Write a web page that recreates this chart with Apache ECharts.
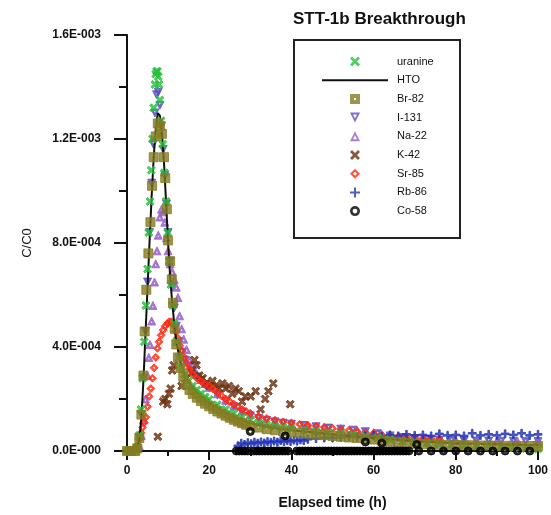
<!DOCTYPE html>
<html>
<head>
<meta charset="utf-8">
<title>STT-1b Breakthrough</title>
<script src="https://cdn.jsdelivr.net/npm/echarts@6/dist/echarts.min.js"></script>
<style>
  html, body { margin: 0; padding: 0; background: #fff; }
  #chart { width: 551px; height: 515px; }
</style>
</head>
<body>
<div id="chart"></div>
<script>
// Tracer breakthrough curves, C/C0 against elapsed time (h)
const seriesNames = ['uranine', 'HTO', 'Br-82', 'I-131', 'Na-22', 'K-42', 'Sr-85', 'Rb-86', 'Co-58'];
const xTicks = [0, 20, 40, 60, 80, 100];
const yTicks = [0, 4e-4, 8e-4, 1.2e-3, 1.6e-3];

const uranine = [
  [0, 0], [1, 0], [2, 0], [2.5, 0.15e-4], [3, 0.6e-4], [3.4, 1.6e-4], [3.8, 2.8e-4], [4.2, 4.2e-4],
  [4.6, 5.6e-4], [5, 7.0e-4], [5.3, 8.4e-4], [5.6, 9.6e-4], [5.9, 10.8e-4], [6.2, 12.0e-4],
  [6.5, 13.2e-4], [6.8, 14.1e-4], [7.0, 14.5e-4], [7.2, 14.6e-4], [7.4, 14.6e-4], [7.6, 14.4e-4],
  [7.8, 14.1e-4], [8, 13.5e-4], [8.3, 12.7e-4], [8.7, 11.8e-4], [9.1, 10.7e-4], [9.5, 9.6e-4],
  [9.9, 8.4e-4], [10.3, 7.3e-4], [10.7, 6.4e-4], [11.1, 5.6e-4], [11.5, 4.9e-4], [12, 4.2e-4],
  [12.6, 3.6e-4], [13.3, 3.2e-4], [14, 2.95e-4], [15, 2.7e-4], [16, 2.5e-4], [17, 2.35e-4],
  [18, 2.2e-4], [19, 2.08e-4], [20, 1.98e-4], [22, 1.78e-4], [24, 1.6e-4], [26, 1.45e-4],
  [28, 1.3e-4], [30, 1.18e-4], [32, 1.08e-4], [34, 1.0e-4], [36, 0.95e-4], [38, 0.9e-4],
  [40, 0.86e-4], [43, 0.8e-4], [46, 0.75e-4], [49, 0.7e-4], [52, 0.66e-4], [55, 0.62e-4],
  [58, 0.57e-4], [61, 0.5e-4], [64, 0.44e-4], [67, 0.38e-4], [70, 0.33e-4], [73, 0.3e-4],
  [76, 0.27e-4], [79, 0.25e-4], [82, 0.22e-4], [85, 0.2e-4], [88, 0.18e-4], [91, 0.15e-4],
  [94, 0.12e-4], [97, 0.1e-4], [100, 0.08e-4]
];

const hto = [
  [0, 0], [2, 0], [2.5, 0.1e-4], [3, 0.4e-4], [3.5, 1.3e-4], [4, 2.7e-4], [4.5, 4.5e-4],
  [5, 6.3e-4], [5.5, 8.1e-4], [6, 9.8e-4], [6.5, 11.3e-4], [7, 12.4e-4], [7.5, 13.0e-4],
  [8, 12.9e-4], [8.5, 12.2e-4], [9, 11.1e-4], [9.5, 9.6e-4], [10, 8.0e-4], [10.5, 6.7e-4],
  [11, 5.7e-4], [11.5, 4.9e-4], [12, 4.2e-4], [13, 3.4e-4], [14, 2.95e-4], [15, 2.65e-4],
  [16, 2.45e-4], [18, 2.1e-4], [20, 1.85e-4], [25, 1.38e-4], [30, 1.08e-4], [35, 0.9e-4],
  [40, 0.8e-4], [50, 0.64e-4], [60, 0.5e-4], [70, 0.38e-4], [80, 0.3e-4], [90, 0.26e-4],
  [100, 0.22e-4]
];

const br82 = [
  [0, 0], [1, 0], [2, 0], [2.5, 0.1e-4], [3, 0.5e-4], [3.5, 1.4e-4], [4, 2.9e-4], [4.3, 4.6e-4],
  [4.7, 6.2e-4], [5.2, 7.6e-4], [5.7, 8.8e-4], [6.1, 10.2e-4], [6.5, 11.3e-4], [7, 12.1e-4],
  [7.5, 12.6e-4], [8, 12.5e-4], [8.5, 12.2e-4], [9, 11.3e-4], [9.3, 10.5e-4], [9.7, 9.3e-4],
  [10, 8.1e-4], [10.5, 7.3e-4], [10.9, 6.6e-4], [11.2, 5.7e-4], [11.6, 4.7e-4], [12, 4.1e-4],
  [12.4, 3.6e-4], [13, 3.2e-4], [13.7, 2.85e-4], [14.4, 2.55e-4], [15.2, 2.35e-4], [16, 2.2e-4],
  [17, 2.05e-4], [18, 1.92e-4], [19, 1.82e-4], [20, 1.72e-4], [21, 1.62e-4], [22, 1.52e-4],
  [23, 1.44e-4], [24, 1.36e-4], [25, 1.28e-4], [26, 1.2e-4], [27, 1.13e-4], [28, 1.07e-4],
  [29, 1.01e-4], [30, 0.97e-4], [32, 0.9e-4], [34, 0.84e-4], [36, 0.8e-4], [38, 0.76e-4],
  [40, 0.73e-4], [42, 0.7e-4], [44, 0.67e-4], [46, 0.64e-4], [48, 0.61e-4], [50, 0.58e-4],
  [52, 0.55e-4], [54, 0.52e-4], [56, 0.5e-4], [58, 0.47e-4], [60, 0.44e-4], [62, 0.4e-4],
  [64, 0.36e-4], [66, 0.33e-4], [68, 0.3e-4], [70, 0.28e-4], [72, 0.26e-4], [74, 0.26e-4],
  [76, 0.24e-4], [78, 0.23e-4], [80, 0.23e-4], [82, 0.22e-4], [84, 0.22e-4], [86, 0.21e-4],
  [88, 0.21e-4], [90, 0.2e-4], [92, 0.2e-4], [94, 0.2e-4], [96, 0.19e-4], [98, 0.19e-4],
  [100, 0.19e-4]
];

const i131 = [
  [2, 0], [2.5, 0.1e-4], [3, 0.5e-4], [3.5, 1.4e-4], [4, 2.8e-4], [4.5, 4.6e-4], [5, 6.5e-4],
  [5.5, 8.4e-4], [6, 10.3e-4], [6.4, 11.8e-4], [6.8, 13.0e-4], [7.2, 13.7e-4], [7.6, 13.8e-4],
  [8, 13.3e-4], [8.4, 12.5e-4], [8.8, 11.6e-4], [9.2, 10.6e-4], [9.6, 9.5e-4], [10, 8.4e-4],
  [10.5, 7.3e-4], [11, 6.3e-4], [11.5, 5.5e-4], [12, 4.8e-4], [12.6, 4.2e-4], [13.3, 3.8e-4],
  [14, 3.5e-4], [15, 3.25e-4], [16, 3.05e-4], [17, 2.85e-4], [18, 2.7e-4], [19, 2.55e-4],
  [20, 2.42e-4], [22, 2.15e-4], [24, 1.9e-4], [26, 1.7e-4], [28, 1.5e-4], [30, 1.35e-4],
  [32, 1.25e-4], [34, 1.18e-4], [36, 1.12e-4], [38, 1.07e-4], [40, 1.03e-4], [43, 0.98e-4],
  [46, 0.93e-4], [49, 0.88e-4], [52, 0.84e-4], [55, 0.8e-4], [58, 0.74e-4], [61, 0.66e-4],
  [64, 0.58e-4], [67, 0.52e-4], [70, 0.48e-4], [73, 0.45e-4], [76, 0.42e-4], [79, 0.4e-4],
  [82, 0.39e-4], [85, 0.38e-4], [88, 0.38e-4], [91, 0.37e-4], [94, 0.37e-4], [97, 0.36e-4],
  [100, 0.36e-4]
];

const na22 = [
  [3, 0.2e-4], [3.5, 0.6e-4], [4, 1.2e-4], [4.5, 2.0e-4], [5, 2.9e-4], [5.3, 3.6e-4],
  [5.6, 4.1e-4], [6, 5.0e-4], [6.3, 5.6e-4], [6.7, 6.5e-4], [7, 7.2e-4], [7.3, 7.7e-4],
  [7.6, 8.3e-4], [8, 9.0e-4], [8.4, 9.3e-4], [8.8, 9.2e-4], [9.2, 8.8e-4], [9.6, 8.2e-4],
  [10, 7.7e-4], [10.5, 7.2e-4], [11, 6.9e-4], [11.5, 6.6e-4], [12, 6.3e-4], [12.4, 5.9e-4],
  [12.8, 5.2e-4], [13.3, 4.7e-4], [13.8, 4.3e-4], [14.5, 3.9e-4], [15.2, 3.5e-4], [16, 3.2e-4],
  [17, 2.95e-4], [18, 2.75e-4], [19, 2.6e-4], [20, 2.45e-4], [22, 2.2e-4], [24, 1.95e-4],
  [26, 1.75e-4], [28, 1.55e-4], [30, 1.4e-4], [33, 1.25e-4], [36, 1.15e-4], [40, 1.05e-4],
  [44, 0.98e-4], [48, 0.92e-4], [52, 0.86e-4], [56, 0.8e-4], [60, 0.7e-4], [64, 0.6e-4],
  [68, 0.52e-4], [72, 0.47e-4], [76, 0.43e-4], [80, 0.41e-4], [85, 0.4e-4], [90, 0.39e-4],
  [95, 0.38e-4], [100, 0.37e-4]
];

const k42 = [
  [7.5, 0.55e-4], [8.8, 1.9e-4], [9.3, 2.0e-4], [9.8, 1.8e-4], [10.2, 2.2e-4], [10.6, 2.4e-4],
  [11.0, 3.1e-4], [11.4, 3.3e-4], [13.3, 2.5e-4], [14.4, 2.8e-4], [15.7, 3.0e-4], [16.4, 3.5e-4],
  [16.9, 3.3e-4], [17.6, 2.9e-4], [18.4, 2.8e-4], [19.2, 2.6e-4], [20.0, 2.5e-4], [20.8, 2.7e-4],
  [21.6, 2.5e-4], [22.4, 2.4e-4], [23.2, 2.6e-4], [24.0, 2.4e-4], [24.8, 2.5e-4], [25.6, 2.2e-4],
  [26.4, 2.4e-4], [27.2, 2.3e-4], [28.0, 1.9e-4], [28.8, 2.1e-4], [30.1, 2.1e-4], [31.3, 2.3e-4],
  [32.5, 1.6e-4], [33.6, 2.0e-4], [34.4, 2.3e-4], [35.6, 2.6e-4], [39.7, 1.8e-4]
];

const sr85 = [
  [2, 0], [2.5, 0.2e-4], [3, 0.45e-4], [3.4, 0.7e-4], [3.8, 0.9e-4], [4.2, 1.1e-4], [4.6, 1.3e-4],
  [5, 1.7e-4], [5.4, 2.1e-4], [5.8, 2.4e-4], [6.2, 2.8e-4], [6.6, 3.2e-4], [7, 3.6e-4],
  [7.4, 3.95e-4], [7.8, 4.2e-4], [8.3, 4.45e-4], [8.8, 4.65e-4], [9.3, 4.8e-4], [9.8, 4.9e-4],
  [10.3, 4.97e-4], [10.8, 4.97e-4], [11.3, 4.85e-4], [11.8, 4.6e-4], [12.3, 4.35e-4],
  [12.8, 4.05e-4], [13.3, 3.85e-4], [13.9, 3.6e-4], [14.5, 3.38e-4], [15.2, 3.15e-4],
  [16, 2.95e-4], [17, 2.8e-4], [18, 2.68e-4], [19, 2.58e-4], [20, 2.5e-4], [21, 2.38e-4],
  [22, 2.25e-4], [23, 2.12e-4], [24, 2.0e-4], [25, 1.9e-4], [26, 1.8e-4], [27, 1.7e-4],
  [28, 1.6e-4], [29, 1.52e-4], [30, 1.45e-4], [32, 1.33e-4], [34, 1.25e-4], [36, 1.18e-4],
  [38, 1.12e-4], [40, 1.08e-4], [42, 1.03e-4], [44, 0.99e-4], [46, 0.95e-4], [48, 0.91e-4],
  [50, 0.87e-4], [52, 0.83e-4], [54, 0.79e-4], [56, 0.75e-4], [58, 0.71e-4], [60, 0.67e-4],
  [62, 0.62e-4], [64, 0.58e-4], [66, 0.55e-4], [68, 0.52e-4], [70, 0.5e-4], [72, 0.48e-4],
  [74, 0.47e-4], [76, 0.45e-4]
];

const rb86 = [
  [27, 0.2e-4], [27.8, 0.3e-4], [28.6, 0.25e-4], [29.4, 0.32e-4], [30.2, 0.28e-4], [31, 0.34e-4],
  [31.8, 0.3e-4], [32.6, 0.35e-4], [33.4, 0.31e-4], [34.2, 0.36e-4], [35, 0.33e-4], [35.8, 0.38e-4],
  [36.6, 0.34e-4], [37.4, 0.4e-4], [38.2, 0.36e-4], [39, 0.4e-4], [39.8, 0.37e-4], [40.6, 0.42e-4],
  [41.4, 0.38e-4], [42.2, 0.43e-4], [43, 0.4e-4], [44, 0.45e-4], [46, 0.48e-4], [48, 0.5e-4],
  [50, 0.5e-4], [52, 0.52e-4], [54, 0.55e-4], [56, 0.53e-4], [58, 0.58e-4], [60, 0.6e-4],
  [62, 0.56e-4], [64, 0.62e-4], [66, 0.58e-4], [68, 0.64e-4], [70, 0.6e-4], [72, 0.62e-4],
  [74, 0.58e-4], [76, 0.66e-4], [78, 0.6e-4], [80, 0.62e-4], [82, 0.58e-4], [84, 0.68e-4],
  [86, 0.6e-4], [88, 0.64e-4], [90, 0.6e-4], [92, 0.66e-4], [94, 0.62e-4], [96, 0.68e-4],
  [98, 0.6e-4], [100, 0.64e-4]
];

const co58 = [
  [26.6, 0], [27.3, 0], [28, 0], [28.7, 0], [29.4, 0], [30.8, 0], [31.5, 0], [32.2, 0],
  [32.9, 0], [33.6, 0], [34.3, 0], [35, 0], [35.7, 0], [36.4, 0], [37.1, 0], [37.8, 0],
  [38.5, 0], [39.2, 0], [41.3, 0], [42, 0], [42.7, 0], [43.4, 0], [44.1, 0], [44.8, 0],
  [45.5, 0], [46.2, 0], [46.9, 0], [47.6, 0], [48.3, 0], [49, 0], [49.7, 0], [50.4, 0],
  [51.1, 0], [51.8, 0], [52.5, 0], [53.2, 0], [53.9, 0], [54.6, 0], [55.3, 0], [56, 0],
  [56.7, 0], [57.4, 0], [58.1, 0], [58.8, 0], [59.5, 0], [60.2, 0], [60.9, 0], [61.6, 0],
  [62.3, 0], [63, 0], [63.7, 0], [64.4, 0], [65.1, 0], [65.8, 0], [66.5, 0], [67.2, 0],
  [67.9, 0], [68.6, 0], [71, 0], [74, 0], [77, 0], [80, 0], [83, 0], [86, 0], [89, 0],
  [92, 0], [95, 0], [98, 0],
  [30, 0.75e-4], [38.5, 0.58e-4], [58, 0.35e-4], [62, 0.3e-4], [70.5, 0.25e-4]
];

// Marker outlines in 10x10 boxes; inner sub-paths wind the other way to leave a hollow centre
const crossPath = 'path://M2,0 L5,3 L8,0 L10,2 L7,5 L10,8 L8,10 L5,7 L2,10 L0,8 L3,5 L0,2 Z';
const plusPath = 'path://M4,0 H6 V4 H10 V6 H6 V10 H4 V6 H0 V4 H4 Z';
const squareDotPath = 'path://M0,0 H10 V10 H0 Z M4,4 V6 H6 V4 Z';
const ringPath = 'path://M0,5 A5,5 0 1,0 10,5 A5,5 0 1,0 0,5 Z M2.6,5 A2.4,2.4 0 1,1 7.4,5 A2.4,2.4 0 1,1 2.6,5 Z';
const triUpPath = 'path://M5,0 L10,10 L0,10 Z M5,4 L3,8 L7,8 Z';
const triDownPath = 'path://M0,0 L10,0 L5,10 Z M3,2 L5,6 L7,2 Z';
const diamondPath = 'path://M5,0 L10,5 L5,10 L0,5 Z M5,3 L3,5 L5,7 L7,5 Z';

function sciLabel(v) {
  if (v === 0) return '0.0E-000';
  let e = Math.floor(Math.log10(v) + 1e-9);
  let m = v / Math.pow(10, e);
  if (m >= 9.95) { m /= 10; e += 1; }
  const sign = e < 0 ? '-' : '+';
  return m.toFixed(1) + 'E' + sign + String(Math.abs(e)).padStart(3, '0');
}

const FONT = 'Liberation Sans, Arial, sans-serif';
const labelFont = { color: '#111', fontFamily: FONT, fontWeight: 'bold', fontSize: 12 };

function scatter(name, data, symbol, size, color, extra) {
  return Object.assign({
    name: name,
    type: 'scatter',
    data: data,
    symbol: symbol,
    symbolSize: size,
    symbolKeepAspect: true,
    itemStyle: { color: color, borderColor: color },
    emphasis: { disabled: true },
    silent: true
  }, extra || {});
}

const legendData = seriesNames.map(function (n) {
  if (n === 'HTO') {
    // line-only key: hide the point drawn on top of the line
    return { name: n, itemStyle: { color: 'rgba(0,0,0,0)', borderColor: 'rgba(0,0,0,0)', opacity: 0 } };
  }
  return { name: n };
});

const chart = echarts.init(document.getElementById('chart'), null, { renderer: 'canvas' });

chart.setOption({
  animation: false,
  backgroundColor: '#fff',
  title: {
    text: 'STT-1b Breakthrough',
    left: 288,
    top: 6,
    textStyle: { fontFamily: FONT, fontWeight: 'bold', fontSize: 17, color: '#111' }
  },
  grid: { left: 127, right: 8, top: 35, bottom: 63, containLabel: false },
  graphic: [{
    type: 'rect',
    shape: { x: 294, y: 40, width: 166, height: 198 },
    style: { fill: 'none', stroke: '#222', lineWidth: 2 },
    z: 50,
    silent: true
  }],
  legend: {
    data: legendData,
    orient: 'vertical',
    left: 316,
    top: 51,
    itemWidth: 66,
    itemHeight: 10,
    itemGap: 7.7,
    selectedMode: false,
    textStyle: { fontFamily: FONT, fontSize: 11, lineHeight: 11, color: '#111', padding: [0, 0, 0, 4] },
    z: 60
  },
  xAxis: {
    type: 'value',
    min: 0,
    max: 100,
    interval: 20,
    name: 'Elapsed time (h)',
    nameLocation: 'middle',
    nameGap: 45,
    nameTextStyle: { fontFamily: FONT, fontWeight: 'bold', fontSize: 14, color: '#111' },
    axisLine: { show: true, onZero: false, lineStyle: { color: '#111', width: 2 } },
    axisTick: { show: true, length: 9, lineStyle: { color: '#111', width: 2 } },
    minorTick: { show: true, splitNumber: 2, length: 5, lineStyle: { color: '#111', width: 2 } },
    axisLabel: Object.assign({ margin: 14 }, labelFont),
    splitLine: { show: false }
  },
  yAxis: {
    type: 'value',
    min: 0,
    max: 1.6e-3,
    interval: 4e-4,
    name: 'C/C0',
    nameLocation: 'middle',
    nameRotate: 90,
    nameGap: 93,
    nameTextStyle: { fontFamily: FONT, fontSize: 13, color: '#111' },
    axisLine: { show: true, onZero: false, lineStyle: { color: '#111', width: 2 } },
    axisTick: { show: true, length: 13, lineStyle: { color: '#111', width: 2 } },
    minorTick: { show: true, splitNumber: 2, length: 8, lineStyle: { color: '#111', width: 2 } },
    axisLabel: Object.assign({ margin: 26, formatter: sciLabel }, labelFont),
    splitLine: { show: false }
  },
  series: [
    scatter('uranine', uranine, crossPath, 8, '#25c13a', { z: 4 }),
    {
      name: 'HTO',
      type: 'line',
      data: hto,
      symbol: 'none',
      showSymbol: false,
      smooth: false,
      lineStyle: { color: '#111', width: 2 },
      itemStyle: { color: '#111' },
      silent: true,
      z: 3
    },
    scatter('Br-82', br82, squareDotPath, 9, '#857c22', { z: 5 }),
    scatter('I-131', i131, triDownPath, 8, '#5b4ec4', { z: 2 }),
    scatter('Na-22', na22, triUpPath, 8, '#9a5dc8', { z: 2 }),
    scatter('K-42', k42, crossPath, 8, '#6b2f0e', { z: 2 }),
    scatter('Sr-85', sr85, diamondPath, 8, '#ff2a12', { z: 2 }),
    scatter('Rb-86', rb86, plusPath, 8, '#2536b8', { z: 2 }),
    scatter('Co-58', co58, ringPath, 8, '#000', { z: 6 })
  ]
});
</script>
</body>
</html>
